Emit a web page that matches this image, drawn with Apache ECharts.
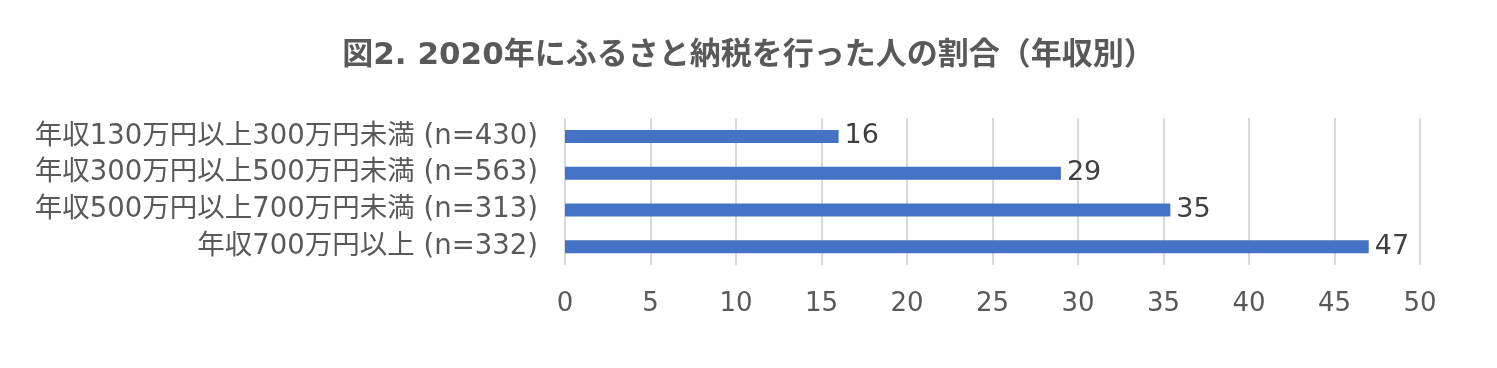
<!DOCTYPE html>
<html><head><meta charset="utf-8">
<script src="https://cdn.jsdelivr.net/npm/echarts@6/dist/echarts.min.js"></script>
<style>html,body{margin:0;padding:0;background:#fff;}#c{width:1497px;height:368px;}</style>
</head><body><div id="c"></div>
<script>
const titleText = '図2. 2020年にふるさと納税を行った人の割合（年収別）';
const categories = [
  '年収130万円以上300万円未満 (n=430)',
  '年収300万円以上500万円未満 (n=563)',
  '年収500万円以上700万円未満 (n=313)',
  '年収700万円以上 (n=332)'
];
const values = [16, 29, 35.4, 47];
const xMin = 0, xMax = 50, xInterval = 5;

const FONT = "'DejaVu Sans', 'Noto Sans CJK JP', sans-serif";
const chart = echarts.init(document.getElementById('c'));
chart.setOption({
  animation: false,
  title: {
    text: titleText, left: 'center', top: 35,
    textStyle: { fontFamily: FONT, fontSize: 31, fontWeight: 'bold', color: '#595959' }
  },
  grid: { left: 565, right: 77, top: 118, bottom: 103 },
  xAxis: {
    type: 'value', min: xMin, max: xMax, interval: xInterval,
    axisLine: { show: false }, axisTick: { show: false },
    splitLine: { show: true, lineStyle: { color: '#d9d9d9', width: 2 } },
    axisLabel: { margin: 26, fontFamily: FONT, fontSize: 26, color: '#595959' }
  },
  yAxis: {
    type: 'category', data: categories, inverse: true,
    axisLine: { show: false }, axisTick: { show: false },
    axisLabel: { margin: 27, fontFamily: FONT, fontSize: 27.5, color: '#595959' }
  },
  series: [{
    type: 'bar', data: values, barWidth: 13,
    itemStyle: { color: '#4472C4' },
    label: { show: true, position: 'right', distance: 6,
      formatter: p => Math.round(p.value),
      fontFamily: FONT, fontSize: 27, color: '#404040' }
  }]
});
</script></body></html>
